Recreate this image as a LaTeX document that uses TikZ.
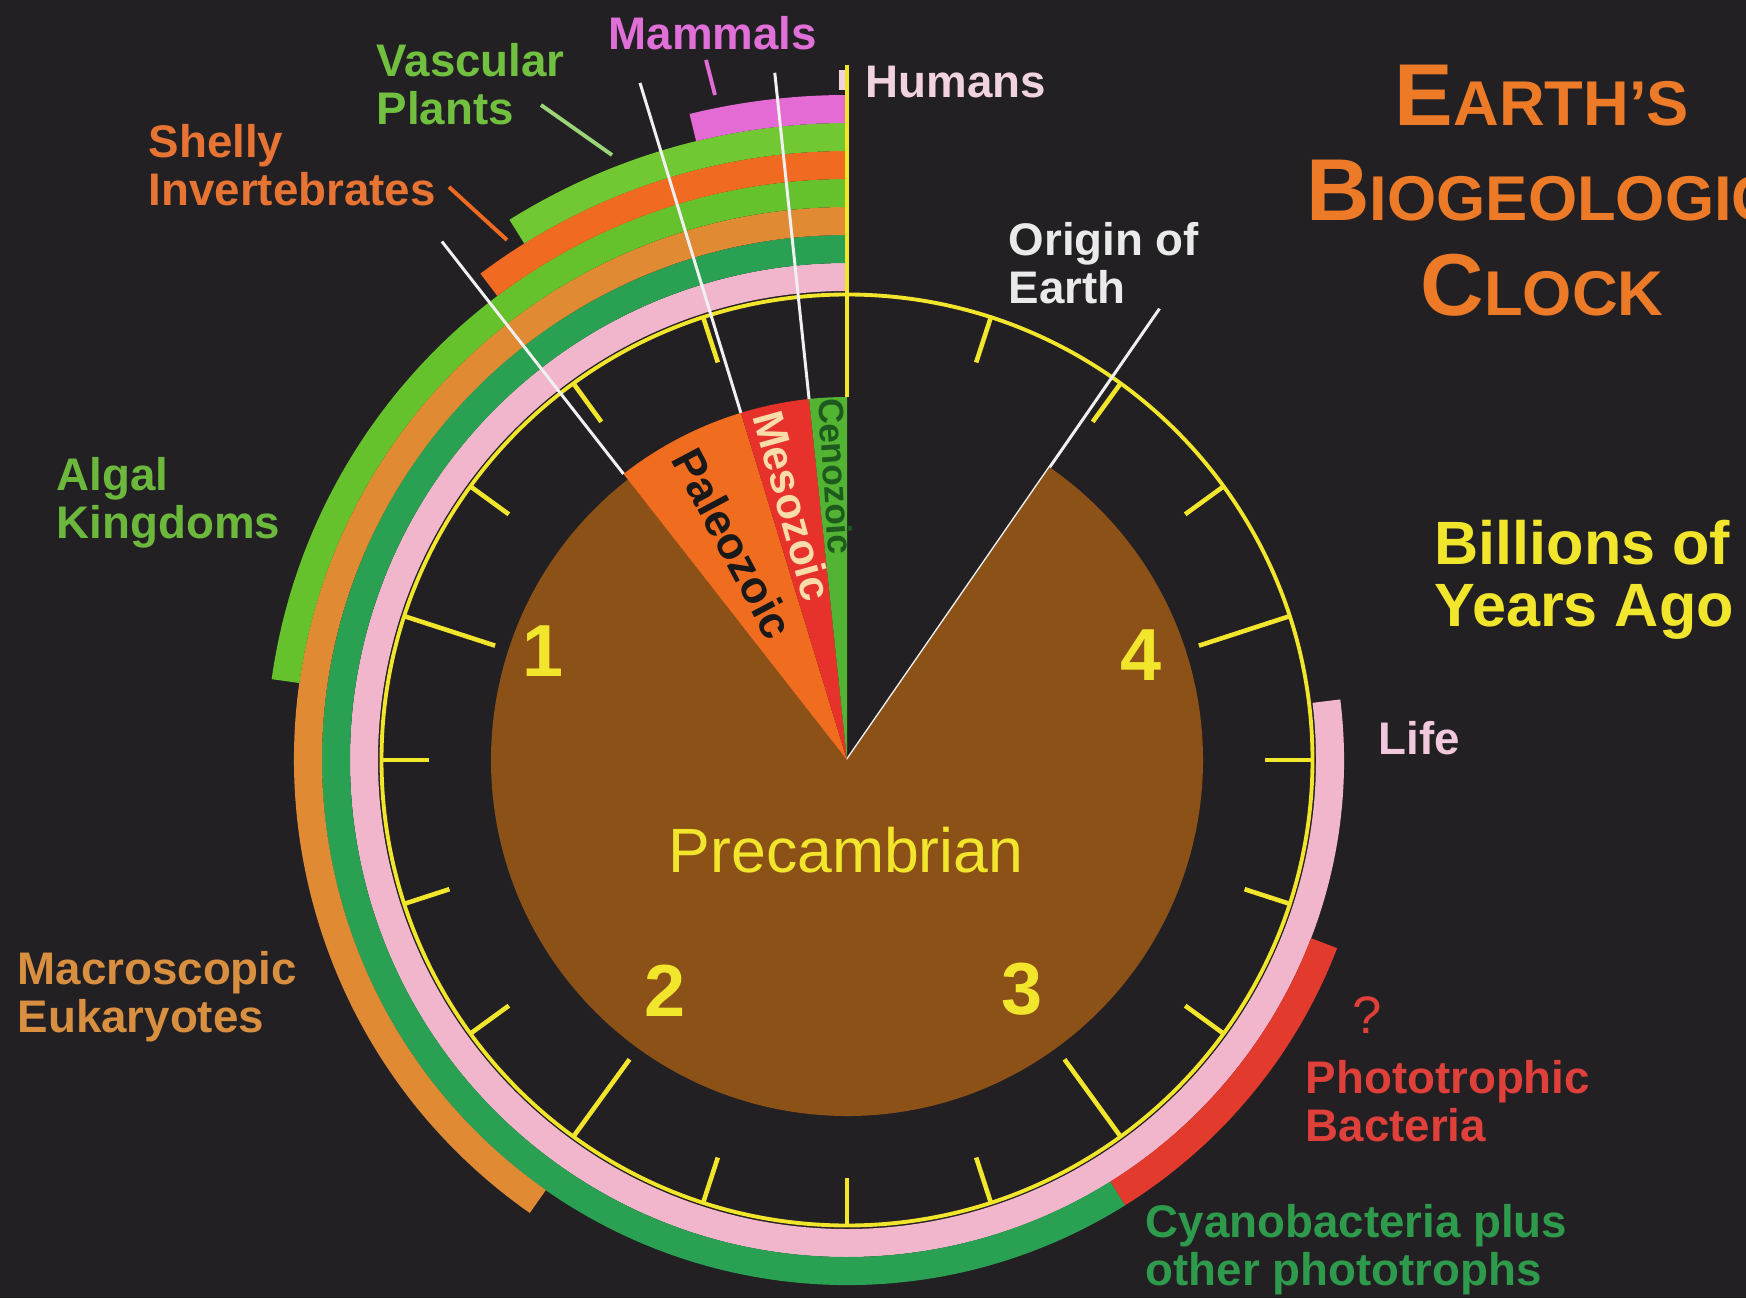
\documentclass[tikz,border=0pt]{standalone}
\usepackage{fontspec}
\setmainfont{Liberation Sans}
\usetikzlibrary{positioning}
\definecolor{bgdark}{HTML}{232024}
\definecolor{precam}{HTML}{8C5116}
\definecolor{paleo}{HTML}{F06C1E}
\definecolor{meso}{HTML}{E6322A}
\definecolor{ceno}{HTML}{52B432}
\definecolor{mesotxt}{HTML}{FADCAA}
\definecolor{cenotxt}{HTML}{1E5A1E}
\definecolor{clockyellow}{HTML}{F2E62C}
\definecolor{lifepink}{HTML}{F2B6CC}
\definecolor{cyangreen}{HTML}{2AA052}
\definecolor{photored}{HTML}{E23A2C}
\definecolor{eukatan}{HTML}{E08A34}
\definecolor{algalgreen}{HTML}{66C22C}
\definecolor{shellyorange}{HTML}{F06A22}
\definecolor{vascgreen}{HTML}{72C832}
\definecolor{mammalpink}{HTML}{E46AD4}
\definecolor{humanpink}{HTML}{F0D2E0}
\definecolor{titleorange}{HTML}{EC7A26}
\definecolor{mammaltxt}{HTML}{E070D8}
\definecolor{vasctxt}{HTML}{72C040}
\definecolor{shellytxt}{HTML}{E87434}
\definecolor{origintxt}{HTML}{EAEAEA}
\definecolor{algaltxt}{HTML}{6CB83C}
\definecolor{lifetxt}{HTML}{F2C8DC}
\definecolor{phototxt}{HTML}{E0403A}
\definecolor{cyanotxt}{HTML}{2E9A4C}
\definecolor{macrotxt}{HTML}{D89040}

\begin{document}
\begin{tikzpicture}[
  lbl/.style={font=\bfseries\fontsize{13}{13.6}\selectfont, align=left, anchor=west, inner sep=0pt},
  era/.style={font=\bfseries, inner sep=0pt},
  leader/.style={line width=1.1pt},
  pointer/.style={white!94!black, line width=0.85pt},
  clockline/.style={clockyellow, line width=1.1pt},
  tick/.style={clockyellow, line width=1.3pt},
  num/.style={font=\bfseries\fontsize{21}{21}\selectfont, text=clockyellow, inner sep=0pt}
]
  % background
  \fill[bgdark] (0,0) rectangle (17.46,12.98);
  \useasboundingbox (0,0) rectangle (17.46,12.98);

  % the clock, centred on the pivot of the pie
  \begin{scope}[shift={(8.47,5.38)}]
    % life rings, inner to outer
    \foreach \col/\ri/\sa/\ea in {lifepink/4.69/90/367, cyangreen/4.97/90/302,
                                  photored/4.97/302/339, eukatan/5.25/90/235,
                                  algalgreen/5.53/90/172, shellyorange/5.81/90/127,
                                  vascgreen/6.09/90/122, mammalpink/6.37/90/103.7}
      \fill[\col] (\sa:\ri) arc[start angle=\sa, end angle=\ea, radius=\ri]
        -- ({\ea}:{\ri+0.28}) arc[start angle=\ea, end angle=\sa, radius={\ri+0.28}] -- cycle;
    \fill[humanpink] (-0.08,6.70) rectangle (-0.015,6.90);

    % dial
    \draw[clockline] (0,0) circle (4.655);
    \coordinate (origin-in) at (0,0);
    \coordinate (origin-out) at (55.3:5.49);
    \draw[pointer] (origin-in) -- (origin-out);

    % Precambrian and the three eras
    \fill[precam] (0,0) -- (128:3.56) arc[start angle=128, end angle=415.3, radius=3.56] -- cycle;
    \fill[paleo] (0,0) -- (107:3.63) arc[start angle=107, end angle=128, radius=3.63] -- cycle;
    \fill[meso] (0,0) -- (96:3.63) arc[start angle=96, end angle=107, radius=3.63] -- cycle;
    \fill[ceno] (0,0) -- (90:3.63) arc[start angle=90, end angle=96, radius=3.63] -- cycle;
    \node[era, font=\bfseries\fontsize{12.8}{13}\selectfont, text=black!90, rotate=-62]
      (paleozoic) at (117.7:2.45) {Paleozoic};
    \node[era, font=\bfseries\fontsize{12.3}{13}\selectfont, text=mesotxt, rotate=-74.5]
      (mesozoic) at (102:2.60) {Mesozoic};
    \node[era, font=\bfseries\fontsize{10}{11}\selectfont, text=cenotxt, rotate=-86]
      (cenozoic) at (92.2:2.84) {Cenozoic};

    % pointers to the era boundaries
    \coordinate (paleo-in) at (128:3.63);
    \coordinate (paleo-out) at (128:6.58);
    \coordinate (meso-in) at (107:3.63);
    \coordinate (meso-out) at (107:7.08);
    \coordinate (ceno-in) at (96:3.63);
    \coordinate (ceno-out) at (96:6.91);
    \draw[pointer] (paleo-out) -- (paleo-in);
    \draw[pointer] (meso-out) -- (meso-in);
    \draw[pointer] (ceno-out) -- (ceno-in);

    % hand and ticks
    \draw[clockline, line width=1.2pt] (90:3.63) -- (90:6.95);
    \foreach \a in {18,36,54,90,108,126,162,180,198,234,252,270,306,324,342}
      \draw[tick] ({90+\a}:4.18) -- ({90+\a}:4.64);
    \foreach \a in {72,144,216,288}
      \draw[tick] ({90+\a}:3.70) -- ({90+\a}:4.64);
  \end{scope}

  % dial numbers
  \node[num] (n1) at (5.43,6.47) {1};
  \node[num] (n2) at (6.65,3.07) {2};
  \node[num] (n3) at (10.22,3.09) {3};
  \node[num] (n4) at (11.41,6.43) {4};
  \node[font=\fontsize{17.8}{20}\selectfont, text=clockyellow, inner sep=0pt]
    (precambrian) at (8.46,4.48) {Precambrian};

  % title
  \node[font=\bfseries\fontsize{18}{27}\selectfont, text=titleorange, align=center, inner sep=0pt]
    (title) at (15.42,11.07)
    {{\fontsize{25}{27}\selectfont E}ARTH'S\\{\fontsize{25}{27}\selectfont B}IOGEOLOGIC\\{\fontsize{25}{27}\selectfont C}LOCK};

  % labels
  \node[lbl, text=mammaltxt, anchor=center] (mammals) at (7.13,12.65) {Mammals};
  \node[lbl, text=vasctxt] (vascular) at (3.76,12.14) {Vascular\\Plants};
  \node[lbl, text=shellytxt] (shelly) at (1.48,11.33) {Shelly\\Invertebrates};
  \node[lbl, text=humanpink] (humans) at (8.65,12.16) {Humans};
  \node[lbl, text=origintxt] (origin) at (10.08,10.35) {Origin of\\Earth};
  \node[lbl, text=clockyellow, font=\bfseries\fontsize{17.4}{17.8}\selectfont]
    (billions) at (14.34,7.18) {Billions of\\Years Ago};
  \node[lbl, text=algaltxt] (algal) at (0.56,7.95) {Algal\\Kingdoms};
  \node[lbl, text=lifetxt] (life) at (13.78,5.60) {Life};
  \node[text=phototxt, font=\fontsize{15}{15}\selectfont, inner sep=0pt] (query) at (13.67,2.83) {?};
  \node[lbl, text=phototxt] (photo) at (13.05,1.97) {Phototrophic\\Bacteria};
  \node[lbl, text=cyanotxt] (cyano) at (11.45,0.48) {Cyanobacteria plus\\other phototrophs};
  \node[lbl, text=macrotxt] (macro) at (0.17,3.01) {Macroscopic\\Eukaryotes};

  % leaders from the labels to their rings
  \coordinate (mammal-a) at (7.06,12.38);
  \coordinate (mammal-b) at (7.15,12.03);
  \coordinate (vasc-a) at (5.41,11.93);
  \coordinate (vasc-b) at (6.12,11.43);
  \coordinate (shelly-a) at (4.49,11.11);
  \coordinate (shelly-b) at (5.07,10.58);
  \draw[leader, mammalpink] (mammal-a) -- (mammal-b);
  \draw[leader, vasctxt!70!white] (vasc-a) -- (vasc-b);
  \draw[leader, shellyorange] (shelly-a) -- (shelly-b);
\end{tikzpicture}
\end{document}
